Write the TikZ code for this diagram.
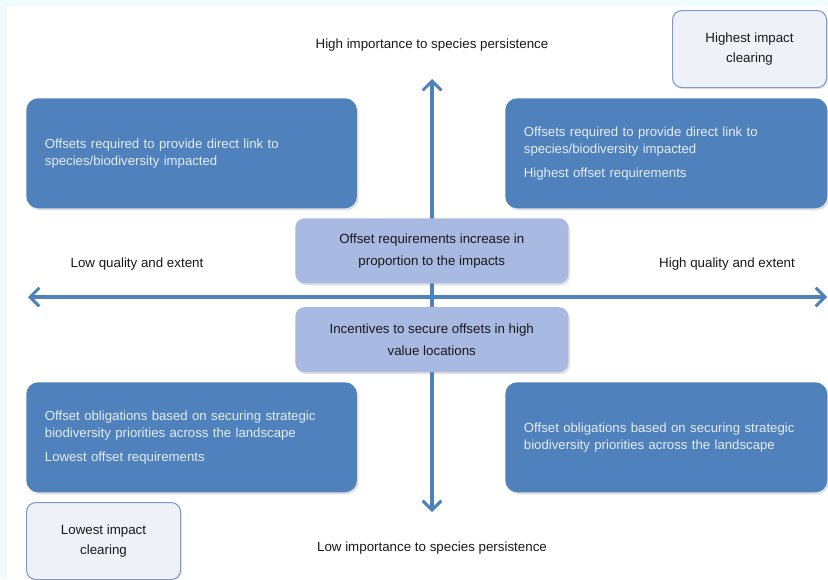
\documentclass[tikz,border=0pt]{standalone}
\usepackage{fontspec}
\setmainfont{Liberation Sans}
\usetikzlibrary{arrows.meta,positioning,calc,shadows}
\definecolor{qdblue}{HTML}{4F81BD}
\definecolor{qdlight}{HTML}{A8B9E2}
\definecolor{qdpale}{HTML}{EEF1F8}
\definecolor{qdedge}{HTML}{7F9CC8}
\definecolor{qdtext}{HTML}{E6ECF4}
\definecolor{qdbg}{HTML}{EFFBFD}

\begin{document}
\begin{tikzpicture}[
  x=0.75pt, y=-0.75pt,
  quad/.style={
    rounded corners=9pt, fill=qdblue, text=qdtext,
    font=\fontsize{9.9}{12.75}\selectfont, align=left, anchor=north west,
    text width=220pt, inner xsep=14pt, minimum height=82.5pt,
    drop shadow={shadow xshift=1.2pt, shadow yshift=-1.5pt, opacity=0.25}},
  mid/.style={
    rounded corners=7pt, fill=qdlight, text=black!90,
    font=\fontsize{10}{16.5}\selectfont, align=center, anchor=north west,
    minimum width=204.75pt, minimum height=48.75pt,
    drop shadow={shadow xshift=1.2pt, shadow yshift=-1.5pt, opacity=0.25}},
  corner/.style={
    rounded corners=7pt, draw=qdedge, line width=0.8pt, fill=qdpale,
    text=black!90, font=\fontsize{10}{15}\selectfont, align=center,
    anchor=north west, minimum width=115.5pt, minimum height=57.75pt,
    drop shadow={shadow xshift=1pt, shadow yshift=-1.2pt, opacity=0.2}},
  lbl/.style={font=\fontsize{10}{12}\selectfont, text=black!90},
  axis/.style={qdblue, line width=2.3pt,
    {Straight Barb[length=7pt, width=14pt, line width=2.2pt]}-{Straight Barb[length=7pt, width=14pt, line width=2.2pt]}},
]

  %% ---- Fond ----
  \useasboundingbox (0,0) rectangle (828,579);
  \fill[qdbg] (0,0) rectangle (828,579);
  \fill[white] (7,6) rectangle (828,579);

  %% ---- Axes ----
  \coordinate (xl) at (28,297);
  \coordinate (xr) at (827,297);
  \coordinate (yt) at (432,79);
  \coordinate (yb) at (432,512);
  \draw[axis] (xl) -- (xr);
  \draw[axis] (yb) -- (yt);

  %% ---- Quadrants ----
  \node[quad] (tl) at (26,98)
    {Offsets required to provide direct link to\\species/biodiversity impacted};
  \node[quad, text width=213.5pt] (tr) at (505,98)
    {Offsets required to provide direct link to\\species/biodiversity impacted\\[5pt]Highest offset requirements};
  \node[quad] (bl) at (26,382)
    {Offset obligations based on securing strategic\\biodiversity priorities across the landscape\\[5pt]Lowest offset requirements};
  \node[quad, text width=213.5pt] (br) at (505,382)
    {Offset obligations based on securing strategic\\biodiversity priorities across the landscape};

  %% ---- Boites centrales ----
  \node[mid] (up) at (295,218) {Offset requirements increase in\\proportion to the impacts};
  \node[mid, below=17.5pt of up.south west, anchor=north west] (down)
    {Incentives to secure offsets in high\\value locations};

  %% ---- Coins ----
  \node[corner] (hic) at (672,10) {Highest impact\\clearing};
  \node[corner] (lic) at (26,502) {Lowest impact\\clearing};

  %% ---- Etiquettes des axes ----
  \node[lbl] (hip) at (432,45) {High importance to species persistence};
  \node[lbl] (lip) at (432,548) {Low importance to species persistence};
  \node[lbl] (lqe) at (137,264) {Low quality and extent};
  \node[lbl] (hqe) at (727,264) {High quality and extent};

\end{tikzpicture}
\end{document}
